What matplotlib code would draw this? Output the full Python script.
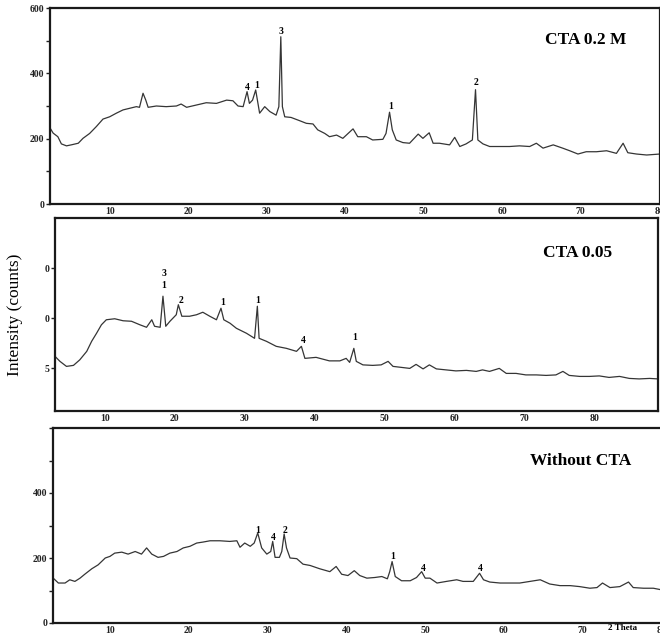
import numpy as np
import matplotlib
matplotlib.use('Agg')
from matplotlib import pyplot as plt
from matplotlib.ticker import FixedLocator, FixedFormatter, MultipleLocator

plt.rcParams['font.family'] = ['Liberation Serif', 'DejaVu Serif']

# --- CTA 0.2 M (2 theta, counts) ---
tt_a = [2.4, 2.8, 3.4, 3.85, 4.5, 5.1, 6.0, 6.6, 7.45, 8.3, 9.15, 10.0, 10.85, 11.7,
        12.55, 13.4, 13.8, 14.25, 14.6, 14.9, 15.95, 17.2, 18.5, 19.1, 19.8, 21.05,
        22.3, 23.6, 24.9, 25.7, 26.35, 27.0, 27.5, 27.8, 28.2, 28.6, 29.1, 29.75,
        30.4, 31.2, 31.55, 31.8, 32.0, 32.3, 33.1, 34.2, 35.05, 35.9, 36.5, 37.4,
        38.0, 38.9, 39.7, 41.0, 41.6, 42.7, 43.5, 44.8, 45.2, 45.65, 46.0, 46.5,
        47.35, 48.2, 49.3, 49.9, 50.7, 51.2, 52.0, 53.3, 53.95, 54.6, 55.4, 56.2,
        56.6, 56.9, 57.55, 58.4, 59.7, 60.95, 62.2, 63.5, 64.35, 65.2, 66.5, 67.7,
        68.6, 69.65, 70.7, 72.0, 73.3, 74.55, 75.4, 76.0, 77.1, 78.4, 80.1]
int_a = [233, 217, 206, 184, 178, 181, 186, 201, 216, 237, 260, 267, 278, 288,
         293, 298, 296, 339, 318, 296, 300, 298, 300, 306, 296, 303,
         310, 308, 318, 316, 300, 298, 344, 308, 318, 349, 278, 298,
         283, 272, 298, 512, 298, 267, 265, 255, 247, 245, 227, 216,
         206, 211, 201, 230, 206, 206, 196, 198, 216, 281, 227, 196,
         188, 186, 214, 201, 218, 186, 186, 181, 204, 176, 184, 196,
         350, 196, 184, 176, 176, 176, 178, 176, 186, 171, 181, 171,
         163, 153, 160, 160, 163, 155, 186, 157, 153, 150, 153]
lab_a = [(27.5, 356, '4'), (28.7, 364, '1'), (31.8, 527, '3'), (45.75, 297, '1'), (56.6, 372, '2')]

# --- CTA 0.05 ---
tt_b = [2.86, 3.57, 4.5, 5.5, 6.4, 7.4, 8.1, 8.8, 9.5, 10.2, 11.4, 12.6, 13.8, 15.0,
        15.95, 16.7, 17.1, 17.9, 18.3, 18.7, 19.3, 20.2, 20.5, 21.0, 22.1, 23.1,
        24.0, 25.0, 25.95, 26.6, 27.0, 27.9, 28.8, 30.25, 31.4, 31.8, 32.05, 33.1,
        34.5, 35.95, 37.4, 38.1, 38.6, 40.2, 42.1, 43.6, 44.5, 45.0, 45.6, 45.95,
        46.9, 48.3, 49.5, 50.5, 51.2, 52.4, 53.6, 54.5, 55.5, 56.4, 57.4, 58.8,
        60.2, 61.7, 63.1, 64.0, 65.0, 66.4, 67.4, 68.8, 70.2, 71.7, 73.1, 74.5,
        75.5, 76.4, 77.9, 79.3, 80.7, 82.1, 83.6, 85.0, 86.4, 87.9, 89.1]
int_b = [124, 114, 104, 106, 117, 134, 154, 170, 187, 197, 199, 195, 194, 187,
         182, 197, 184, 182, 244, 184, 194, 207, 227, 204, 204, 207,
         212, 204, 197, 220, 197, 190, 180, 170, 160, 224, 160, 154,
         144, 140, 134, 144, 120, 122, 115, 115, 120, 112, 140, 114,
         107, 106, 107, 114, 104, 102, 100, 108, 99, 107, 99, 97,
         95, 96, 94, 97, 94, 100, 90, 90, 87, 87, 86, 87,
         94, 86, 84, 84, 85, 82, 84, 80, 79, 80, 79]
lab_b = [(18.4, 289, '3'), (18.4, 266, '1'), (20.9, 236, '2'), (26.8, 232, '1'),
         (31.9, 236, '1'), (38.3, 155, '4'), (45.7, 162, '1')]

# --- Without CTA ---
tt_c = [2.8, 3.45, 4.3, 4.9, 5.55, 6.2, 6.8, 7.7, 8.5, 9.4, 10.0, 10.6, 11.5, 12.3,
        13.2, 14.0, 14.65, 15.3, 16.1, 16.8, 17.6, 18.5, 19.3, 20.15, 21.0, 21.8,
        22.7, 23.95, 25.2, 26.1, 26.5, 27.1, 27.8, 28.3, 28.75, 29.25, 29.9, 30.4,
        30.65, 30.95, 31.5, 31.8, 32.1, 32.4, 32.85, 33.7, 34.5, 35.4, 36.6, 37.9,
        38.7, 39.4, 40.2, 41.0, 41.7, 42.6, 43.6, 44.5, 45.2, 45.5, 45.8, 46.2,
        47.0, 48.1, 48.9, 49.55, 50.0, 50.6, 51.5, 52.7, 54.0, 54.8, 56.1, 56.9,
        57.4, 58.2, 59.5, 60.8, 62.0, 63.3, 64.6, 65.8, 67.1, 68.4, 69.6, 70.9,
        71.8, 72.5, 73.45, 74.7, 75.8, 76.4, 77.7, 78.95, 80.0]
int_c = [138, 123, 123, 133, 128, 138, 150, 167, 179, 200, 205, 215, 218, 212,
         220, 212, 231, 212, 202, 205, 215, 220, 231, 236, 246, 249,
         253, 253, 251, 253, 233, 246, 236, 246, 277, 231, 212, 220,
         251, 202, 202, 220, 274, 231, 200, 198, 181, 177, 167, 158,
         174, 150, 146, 161, 146, 138, 140, 143, 136, 158, 189, 143,
         130, 130, 140, 158, 138, 138, 123, 128, 133, 128, 128, 153,
         133, 126, 123, 123, 123, 128, 133, 120, 115, 115, 112, 107,
         109, 123, 109, 112, 126, 109, 107, 107, 102]
lab_c = [(28.75, 285, '1'), (30.7, 262, '4'), (32.2, 284, '2'), (45.9, 205, '1'),
         (49.7, 169, '4'), (57.0, 169, '4')]

W, H = 660, 634
fig = plt.figure(figsize=(W / 100, H / 100), dpi=100)


def box(l, t, r, b):
    return [l / W, 1 - b / H, (r - l) / W, (b - t) / H]


tick_font = dict(family='Liberation Serif', weight='bold', size=7)
line_col = '#353535'


def style(ax):
    for s in ax.spines.values():
        s.set_linewidth(1.6)
        s.set_color('#1a1a1a')
    ax.tick_params(axis='x', length=0, pad=2, colors='#222222')
    ax.tick_params(axis='y', which='both', direction='out', length=3, width=1, pad=1,
                   colors='#222222')
    for t in ax.get_xticklabels() + ax.get_yticklabels():
        t.set_fontfamily('Liberation Serif')
        t.set_fontweight('bold')
        t.set_fontsize(7)


# panel 1
ax1 = fig.add_axes(box(50, 8, 660, 204))
ax1.plot(tt_a, int_a, color=line_col, lw=0.9)
ax1.set_xlim(2.4, 80.1)
ax1.set_ylim(0, 600)
ax1.set_xticks([10, 20, 30, 40, 50, 60, 70, 80])
ax1.set_yticks([0, 200, 400, 600])
ax1.yaxis.set_minor_locator(MultipleLocator(100))
style(ax1)
for x, y, s in lab_a:
    ax1.text(x, y, s, ha='center', va='center', **tick_font)

# panel 2
ax2 = fig.add_axes(box(55, 218, 658, 411))
ax2.plot(tt_b, int_b, color=line_col, lw=0.9)
ax2.set_xlim(2.86, 89.1)
ax2.set_ylim(15, 400)
ax2.set_xticks([10, 20, 30, 40, 50, 60, 70, 80])
ax2.yaxis.set_major_locator(FixedLocator([100, 200, 300]))
ax2.yaxis.set_major_formatter(FixedFormatter(['5', '0', '0']))
style(ax2)
ax2.text(90, -0.02, '90', transform=ax2.get_xaxis_transform(), ha='center', va='top',
         clip_on=False, **tick_font)
for x, y, s in lab_b:
    ax2.text(x, y, s, ha='center', va='center', **tick_font)

# panel 3
ax3 = fig.add_axes(box(53, 428, 662, 623))
ax3.plot(tt_c, int_c, color=line_col, lw=0.9)
ax3.set_xlim(2.77, 80.05)
ax3.set_ylim(0, 600)
ax3.set_xticks([10, 20, 30, 40, 50, 60, 70, 80])
ax3.yaxis.set_major_locator(FixedLocator([0, 200, 400, 600]))
ax3.yaxis.set_major_formatter(FixedFormatter(['0', '200', '400', '']))
ax3.yaxis.set_minor_locator(MultipleLocator(100))
style(ax3)
for x, y, s in lab_c:
    ax3.text(x, y, s, ha='center', va='center', **tick_font)
ax3.text(75.0, -0.028, '2 Theta', transform=ax3.get_xaxis_transform(), ha='center',
         va='center', family='Liberation Serif', weight='bold', size=6.5)

title_font = dict(family='Liberation Serif', weight='bold', size=12.5)
fig.text(586 / W, 1 - 40 / H, 'CTA 0.2 M', ha='center', va='center', **title_font)
fig.text(578 / W, 1 - 253 / H, 'CTA 0.05', ha='center', va='center', **title_font)
fig.text(581 / W, 1 - 461 / H, 'Without CTA', ha='center', va='center', **title_font)
fig.text(15 / W, 1 - 315 / H, 'Intensity (counts)', rotation=90, ha='center', va='center',
         family='Liberation Serif', size=12.5)

fig.savefig('out.png', dpi=100)
